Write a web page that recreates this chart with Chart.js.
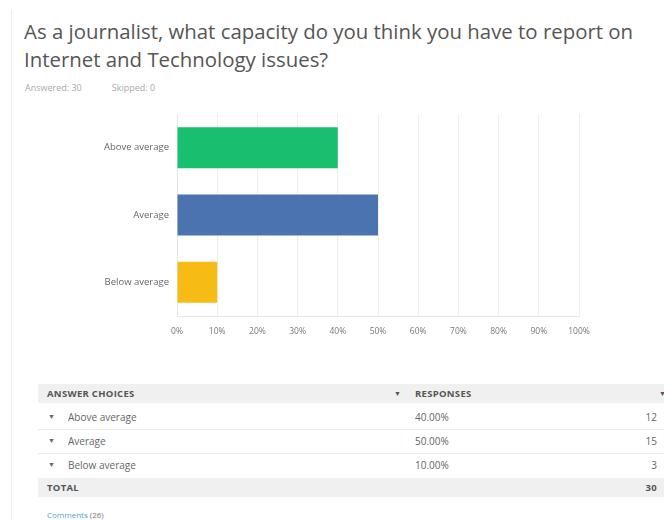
<!DOCTYPE html>
<html>
<head>
<meta charset="utf-8">
<script src="https://cdn.jsdelivr.net/npm/chart.js@4/dist/chart.umd.min.js"></script>
<style>
  body { margin: 0; background: #fff; width: 664px; height: 520px; overflow: hidden; position: relative; font-family: "Open Sans", sans-serif; }
  #edge { position: absolute; left: 11px; top: 10px; width: 1px; height: 510px; background: #eeeeee; }
  #title { position: absolute; left: 24px; top: 17px; font-size: 20.4px; line-height: 28px; color: #555; }
  #meta { position: absolute; left: 25px; top: 81px; font-size: 9px; color: #aaa; }
  #meta span { margin-right: 30px; }
  #wrap { position: absolute; left: 0; top: 100px; width: 664px; height: 250px; }
  .row { position: absolute; left: 38px; width: 626px; font-size: 10px; color: #666; }
  .row div { position: absolute; top: 0; }
  .hd { background: #f0f0f0; height: 19px; line-height: 19px; font-weight: bold; color: #555; font-size: 9.5px; letter-spacing: 0.3px; }
  .ln { height: 24px; line-height: 24px; border-bottom: 1px solid #ececec; }
  #comments { position: absolute; left: 47px; top: 509px; font-size: 8px; color: #5b9bd1; }
  #comments span { color: #777; }
</style>
</head>
<body>
<div id="edge"></div>
<div id="title">As a journalist, what capacity do you think you have to report on<br>Internet and Technology issues?</div>
<div id="meta"><span>Answered: 30</span><span>Skipped: 0</span></div>
<div id="wrap"><canvas id="chart"></canvas></div>
<div id="table"></div>
<div id="comments">Comments <span>(26)</span></div>
<script>
const categories = ['Above average', 'Average', 'Below average'];
const percents = [40, 50, 10];
const counts = [12, 15, 3];
const total = 30;
const barColors = ['#17bf6e', '#4a73b0', '#f6bb14'];

const grid = '#efefef';

new Chart(document.getElementById('chart'), {
  type: 'bar',
  data: {
    labels: categories,
    datasets: [{
      data: percents,
      backgroundColor: barColors,
      barPercentage: 0.61,
      categoryPercentage: 1
    }]
  },
  options: {
    indexAxis: 'y',
    responsive: true,
    maintainAspectRatio: false,
    animation: false,
    layout: { padding: { top: 14, right: 85, left: 0, bottom: 0 } },
    plugins: { legend: { display: false }, tooltip: { enabled: false } },
    scales: {
      x: {
        min: 0, max: 100,
        ticks: { stepSize: 10, padding: 10, color: '#777', font: { family: 'Open Sans', size: 8.5 },
          callback: v => v + '%', maxRotation: 0, autoSkip: false },
        grid: { color: grid, drawTicks: false },
        border: { color: '#e6e6e6' },
        afterFit: s => { s.height = 34; }
      },
      y: {
        ticks: { padding: 0, color: '#666', font: { family: 'Open Sans', size: 9.5 } },
        grid: { display: false },
        border: { color: '#e6e6e6' },
        afterFit: s => { s.width = 177; }
      }
    }
  }
});

// table below the chart
const table = document.getElementById('table');
let html = '<div class="row hd" style="top:384px"><div style="left:9px">ANSWER CHOICES</div>' +
  '<div style="left:356px;font-size:7px">&#9660;</div><div style="left:377px">RESPONSES</div>' +
  '<div style="left:621px;font-size:7px">&#9660;</div></div>';
categories.forEach((c, i) => {
  const top = 405 + i * 24;
  html += '<div class="row ln" style="top:' + top + 'px;' + (i === 2 ? 'border-bottom:none' : '') + '">' +
    '<div style="left:10px;font-size:7px">&#9660;</div>' +
    '<div style="left:30px">' + c + '</div>' +
    '<div style="left:377px">' + percents[i].toFixed(2) + '%</div>' +
    '<div style="right:7px">' + counts[i] + '</div></div>';
});
html += '<div class="row hd" style="top:478px"><div style="left:9px">TOTAL</div><div style="right:7px">' + total + '</div></div>';
table.innerHTML = html;
</script>
</body>
</html>
